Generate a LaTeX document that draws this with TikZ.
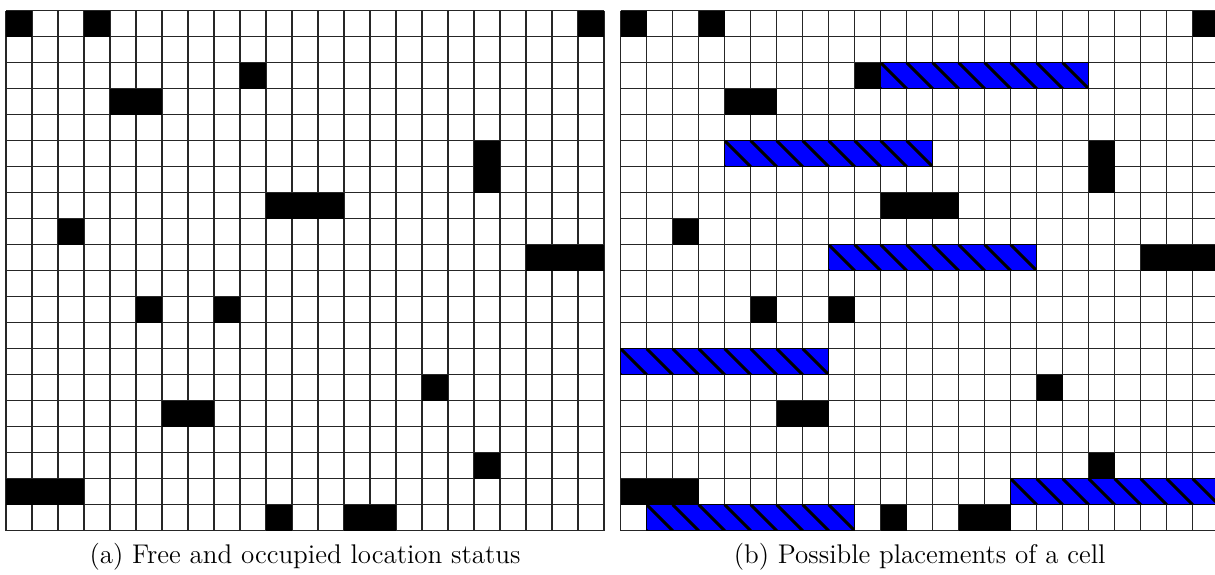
\documentclass[tikz,border=0pt]{standalone}
\begin{document}
\begin{tikzpicture}[x=13pt,y=-13pt,
  gridline/.style={black!85,line width=0.55pt},
  hatchline/.style={black,line width=1.5pt}]
\useasboundingbox (-0.231,-0.41) rectangle (46.5,21.67);
\clip (-0.231,-0.41) rectangle (46.5,21.67);
%left grid: occupied locations
\foreach \i in {0,...,23} \draw[gridline] (\i,0) -- (\i,20);
\foreach \j in {0,...,20} \draw[gridline] (0,\j) -- (23,\j);
\foreach \c/\r in {0/0,3/0,22/0,9/2,4/3,5/3,18/5,18/6,10/7,11/7,12/7,2/8,20/9,21/9,22/9,5/11,8/11,16/14,6/15,7/15,18/17,0/18,1/18,2/18,10/19,13/19,14/19}
  \fill[black] (\c,\r) rectangle ++(1,1);
\node[anchor=base] (capa) at (11.5,21.25) {\fontsize{13.5}{16}\selectfont (a) Free and occupied location status};
%right grid: same locations plus placements
\begin{scope}[xshift=307.35pt]
\foreach \i in {0,...,23} \draw[gridline] (\i,0) -- (\i,20);
\foreach \j in {0,...,20} \draw[gridline] (0,\j) -- (23,\j);
\foreach \c/\r in {0/0,3/0,22/0,9/2,4/3,5/3,18/5,18/6,10/7,11/7,12/7,2/8,20/9,21/9,22/9,5/11,8/11,16/14,6/15,7/15,18/17,0/18,1/18,2/18,10/19,13/19,14/19}
  \fill[black] (\c,\r) rectangle ++(1,1);
%hatched placements, eight locations each
\foreach \c/\r in {10/2,4/5,8/9,0/13,15/18,1/19}{
  \fill[blue] (\c,\r) rectangle ++(8,1);
  \begin{scope}
    \clip (\c,\r) rectangle ++(8,1);
    \foreach \k in {0,...,8}
      \draw[hatchline] (\c+\k-1,\r) -- ++(1,1);
  \end{scope}
  \draw[black,line width=0.6pt] (\c,\r) rectangle ++(8,1);
}
\node[anchor=base] (capb) at (11.5,21.25) {\fontsize{13.5}{16}\selectfont (b) Possible placements of a cell};
\end{scope}
\end{tikzpicture}
\end{document}
